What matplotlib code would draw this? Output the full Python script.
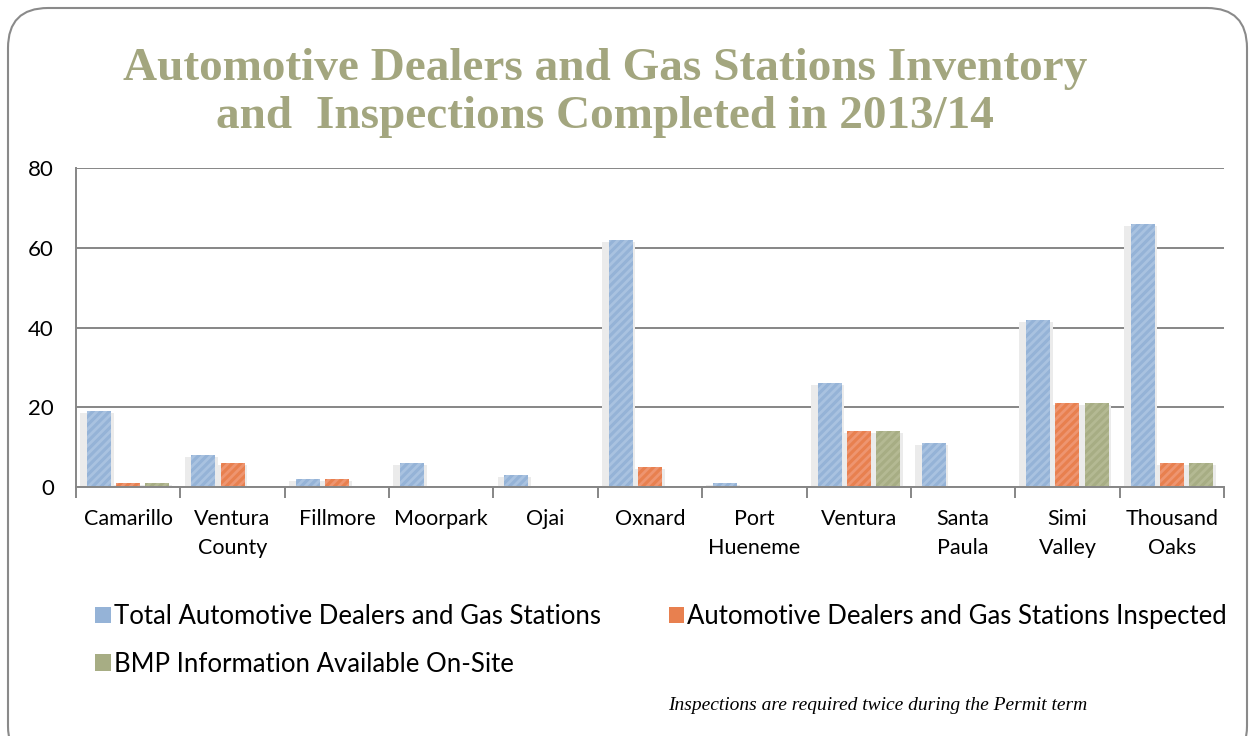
import numpy as np
import matplotlib.pyplot as plt
from matplotlib.patches import FancyBboxPatch, Patch

cities = ['Camarillo', 'Ventura\nCounty', 'Fillmore', 'Moorpark', 'Ojai', 'Oxnard',
          'Port\nHueneme', 'Ventura', 'Santa\nPaula', 'Simi\nValley', 'Thousand\nOaks']
total = [19, 8, 2, 6, 3, 62, 1, 26, 11, 42, 66]
inspected = [1, 6, 2, 0, 0, 5, 0, 14, 0, 21, 6]
bmp = [1, 0, 0, 0, 0, 0, 0, 14, 0, 21, 6]

series_names = ['Total Automotive Dealers and Gas Stations',
                'Automotive Dealers and Gas Stations Inspected',
                'BMP Information Available On-Site']
colors = ['#95b3d7', '#e8804f', '#a7ad84']
hatch_colors = ['#a9c2e0', '#ee9570', '#b4b993']

plt.rcParams['font.family'] = ['Lato', 'DejaVu Sans']
plt.rcParams['hatch.linewidth'] = 2.0

fig = plt.figure(figsize=(12.55, 7.36), dpi=100)
ax = fig.add_axes([76 / 1255, 1 - 487 / 736, (1224 - 76) / 1255, (487 - 168) / 736])

x = np.arange(len(cities))
w = 0.23
offsets = [-0.28, 0.0, 0.28]
for vals, off, c, hc in zip([total, inspected, bmp], offsets, colors, hatch_colors):
    vals = np.array(vals)
    # soft shadow behind bars
    ax.bar(x + off - 0.02, np.where(vals > 0, vals - 0.5, 0), width=w + 0.09,
           color='#ebebeb', linewidth=0, zorder=2)
    ax.bar(x + off, vals, width=w, color=c, edgecolor=hc, linewidth=0,
           hatch='////', zorder=3)
    ax.bar(x + off, np.where(vals > 0, 0.6, 0), bottom=-0.6, width=w,
           color='#8c8c8c', linewidth=0, zorder=3)

ax.set_xlim(-0.5, len(cities) - 0.5)
ax.set_ylim(0, 80)
ax.set_yticks([0, 20, 40, 60, 80])
ax.yaxis.grid(True, color='#868686', linewidth=1.4, zorder=1)
ax.set_axisbelow(True)
ax.tick_params(axis='y', length=0, pad=16, labelsize=16)

ax.set_xticks(np.arange(len(cities) + 1) - 0.5)
ax.set_xticklabels([])
ax.set_xticks(x, minor=True)
ax.set_xticklabels(cities, minor=True, fontsize=15.5, linespacing=1.55)
ax.tick_params(axis='x', which='major', length=8, color='#868686', width=1.4, direction='out')
ax.tick_params(axis='x', which='minor', length=0, pad=16)

for s in ['top', 'right']:
    ax.spines[s].set_visible(False)
for s in ['left', 'bottom']:
    ax.spines[s].set_color('#868686')
    ax.spines[s].set_linewidth(1.4)
ax.spines['bottom'].set_zorder(4)

fig.text(605 / 1255, 1 - 93 / 736, 'Automotive Dealers and Gas Stations Inventory\nand  Inspections Completed in 2013/14',
         ha='center', va='center', fontsize=34, fontweight='bold', color='#a3a67f',
         family='Liberation Serif', linespacing=1.2)

handles = [Patch(facecolor=c, edgecolor='none') for c in colors]
fig.legend([handles[0], handles[2], handles[1]],
           [series_names[0], series_names[2], series_names[1]],
           ncol=2, loc='upper left', bbox_to_anchor=(85 / 1255, 1 - 594 / 736),
           frameon=False, fontsize=18.5, handlelength=0.6, handleheight=0.6,
           handletextpad=0.12, columnspacing=2.65, labelspacing=0.87, borderaxespad=0)

fig.text(668 / 1255, 1 - 705 / 736, 'Inspections are required twice during the Permit term',
         ha='left', va='center', fontsize=14, style='italic', family='Liberation Serif')

border = FancyBboxPatch((8, -30), 1239, 758, boxstyle='round,pad=0,rounding_size=40',
                        transform=None, facecolor='none', edgecolor='#8a8a8a',
                        linewidth=1.5, clip_on=False)
fig.patches.append(border)

fig.savefig('out.png', dpi=100)
